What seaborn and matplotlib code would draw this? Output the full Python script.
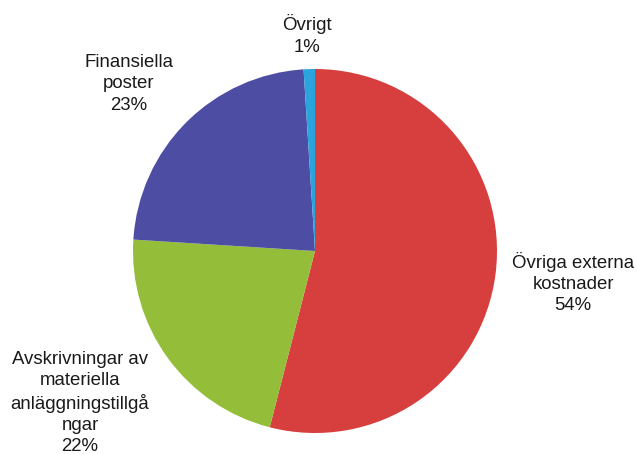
import matplotlib
matplotlib.use("Agg")
import matplotlib.pyplot as plt
import seaborn as sns

categories = ["Övriga externa\nkostnader", "Avskrivningar av\nmateriella\nanläggningstillgå\nngar",
              "Finansiella\nposter", "Övrigt"]
values = [54, 22, 23, 1]
colors = ["#d63f3e", "#94be3a", "#4e4da4", "#2ba3dc"]

sns.set_theme(style="white")
plt.rcParams["font.family"] = ["Liberation Sans", "DejaVu Sans"]

W, H = 637, 454
fig = plt.figure(figsize=(W / 100, H / 100), dpi=100)
ax = fig.add_axes([0, 0, 1, 1])

cx, cy, r = 315, H - 251, 182
ax.pie(values, colors=colors, startangle=90, counterclock=False,
       center=(cx, cy), radius=r, wedgeprops=dict(linewidth=0))
ax.set_xlim(0, W)
ax.set_ylim(0, H)
ax.set_aspect("equal")
ax.axis("off")

# label layout (pixel positions from top-left)
label_pos = [(573, 283), (80, 403), (129, 84), (307, 35)]
for cat, v, (lx, ly) in zip(categories, values, label_pos):
    ax.text(lx, H - ly, f"{cat}\n{v}%", ha="center", va="center",
            fontsize=13.4, color="#1a1a1a", linespacing=1.32)

fig.savefig("out.png", dpi=100, facecolor="white")
